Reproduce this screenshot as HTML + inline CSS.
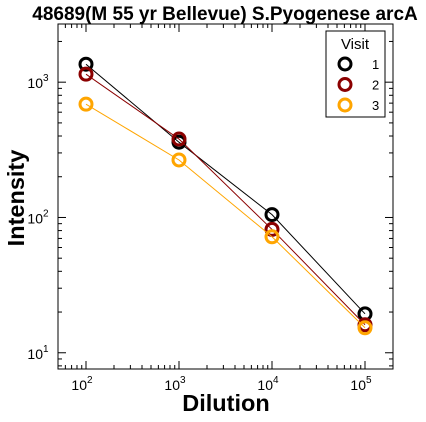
<!DOCTYPE html>
<html><head><meta charset="utf-8"><style>
body{margin:0;background:#fff;}
svg{display:block;font-family:"Liberation Sans",sans-serif;}
</style></head><body>
<svg id="chart" width="426" height="422" xmlns="http://www.w3.org/2000/svg">
<rect x="0" y="0" width="426" height="422" fill="#fff"/>
<text x="225" y="20" text-anchor="middle" font-size="19" font-weight="bold">48689(M 55 yr Bellevue) S.Pyogenese arcA</text>
<text x="226" y="411" text-anchor="middle" font-size="23.5" font-weight="bold">Dilution</text>
<text x="24" y="198" text-anchor="middle" font-size="23.5" font-weight="bold" transform="rotate(-90 24 198)">Intensity</text>
<g id="axes"></g>
<g id="series"></g>
<rect x="58" y="24" width="335" height="345" fill="none" stroke="#000" stroke-width="1"/>
<g>
<rect x="326" y="31" width="59" height="86" fill="#fff" stroke="#000" stroke-width="1"/>
<text x="355" y="49" text-anchor="middle" font-size="15">Visit</text>
<g id="legend-entries"></g>
</g>
</svg>
<script>
const dilutions=[100,1000,10000,100000];
const seriesNames=["1","2","3"];
const series1=[1357,360,105,19.4];
const series2=[1146,380,81.6,16.1];
const series3=[688,266,72,15.3];
const colors=["#000000","#8b0000","#ffa500"];
const xTickExp=[2,3,4,5];
const yTickExp=[1,2,3];
const NS="http://www.w3.org/2000/svg";
const L=58,R=393,T=24,B=369;
const xmin=Math.log10(50),xmax=Math.log10(200000);
const ymin=0.88,ymax=3.43;
function xs(v){return L+(Math.log10(v)-xmin)/(xmax-xmin)*(R-L);}
function ys(v){return B-(Math.log10(v)-ymin)/(ymax-ymin)*(B-T);}
function mk(tag,attrs,parent){const e=document.createElementNS(NS,tag);for(const k in attrs)e.setAttribute(k,attrs[k]);parent.appendChild(e);return e;}
const axes=document.getElementById('axes');
for(let d=1;d<=5;d++){for(let m=1;m<10;m++){const v=m*Math.pow(10,d);if(v<50||v>200000)continue;const x=xs(v);const len=m===1?8:4;
const t1=mk('line',{x1:x,x2:x,y1:B,y2:B-len,stroke:'#000'},axes);
mk('line',{x1:x,x2:x,y1:T,y2:T+len,stroke:'#000'},axes);}}
xTickExp.forEach(e=>{const t=mk('text',{x:xs(Math.pow(10,e))-4,y:B+21,'text-anchor':'middle','font-size':14},axes);t.textContent='10';const s=mk('tspan',{dy:-7,'font-size':10},t);s.textContent=e;});
for(let d=0;d<=3;d++){for(let m=1;m<10;m++){const v=m*Math.pow(10,d);const lv=Math.log10(v);if(lv<ymin||lv>ymax)continue;const y=ys(v);const len=m===1?8:4;
const t1=mk('line',{x1:L,x2:L+len,y1:y,y2:y,stroke:'#000'},axes);
mk('line',{x1:R,x2:R-len,y1:y,y2:y,stroke:'#000'},axes);}}
yTickExp.forEach(e=>{const t=mk('text',{x:L-20,y:ys(Math.pow(10,e))+6,'text-anchor':'middle','font-size':14},axes);t.textContent='10';const s=mk('tspan',{dy:-7,'font-size':10},t);s.textContent=e;});
const sg=document.getElementById('series');
[series1,series2,series3].forEach((vals,i)=>{
const g=mk('g',{},sg);
const pts=vals.map((v,j)=>xs(dilutions[j])+','+ys(v)).join(' ');
const pl=mk('polyline',{points:pts,fill:'none',stroke:colors[i],'stroke-width':1},g);
vals.forEach((v,j)=>{const c=mk('circle',{cx:xs(dilutions[j]),cy:ys(v),r:6,fill:'none',stroke:colors[i],'stroke-width':3},g);});
});
const le=document.getElementById('legend-entries');
seriesNames.forEach((n,i)=>{const y=64+i*20.5;
const g=mk('g',{},le);
mk('circle',{cx:345,cy:y,r:6,fill:'none',stroke:colors[i],'stroke-width':3},g);
const t=mk('text',{x:372,y:y+5,'font-size':13},g);t.textContent=n;});
</script>
</body></html>
